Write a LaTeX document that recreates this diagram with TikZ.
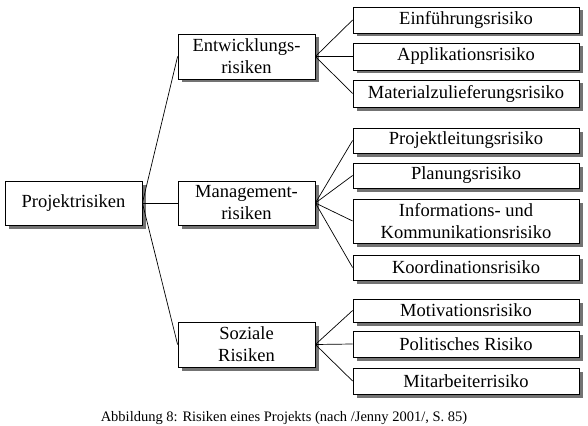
\documentclass[tikz,border=0pt]{standalone}
\usepackage{fontspec}
\setmainfont{Liberation Serif}
\usetikzlibrary{shadows}
\begin{document}
\begin{tikzpicture}[x=1pt,y=-1pt,
  box/.style={draw=black, line width=0.8pt, fill=white, inner sep=0pt, align=center,
    font=\fontsize{18.5}{22}\selectfont,
    drop shadow={shadow xshift=3.5pt, shadow yshift=-3.5pt, fill=black!55, opacity=1}},
  midbox/.style={box, minimum width=137pt},
  leafbox/.style={box, minimum width=226pt},
  conn/.style={draw=black, line width=0.7pt}]
\useasboundingbox (0,0) rectangle (588,425);
\node[midbox, minimum height=44pt] (P) at (73.5,203) {Projektrisiken};
\node[midbox, minimum height=45pt] (E) at (246.5,56.5) {Entwicklungs-\\risiken};
\node[midbox, minimum height=44pt] (M) at (246.5,203) {Management-\\risiken};
\node[midbox, minimum height=45pt] (S) at (246.5,344.5) {Soziale\\Risiken};
\node[leafbox, minimum height=26pt] (e1) at (466,20) {Einführungsrisiko};
\node[leafbox, minimum height=27pt] (e2) at (466,56.5) {Applikationsrisiko};
\node[leafbox, minimum height=27pt] (e3) at (466,93.5) {Materialzulieferungsrisiko};
\node[leafbox, minimum height=25pt] (m1) at (466,140.5) {Projektleitungsrisiko};
\node[leafbox, minimum height=25pt] (m2) at (466,175.5) {Planungsrisiko};
\node[leafbox, minimum height=44pt] (m3) at (466,221) {Informations- und\\Kommunikationsrisiko};
\node[leafbox, minimum height=25pt] (m4) at (466,267.5) {Koordinationsrisiko};
\node[leafbox, minimum height=23pt] (s1) at (466,310.5) {Motivationsrisiko};
\node[leafbox, minimum height=26pt] (s2) at (466,344) {Politisches Risiko};
\node[leafbox, minimum height=26pt] (s3) at (466,381) {Mitarbeiterrisiko};
\node[font=\fontsize{14.5}{17}\selectfont, inner sep=0pt] (cap) at (284,418) {Abbildung 8: Risiken eines Projekts (nach /Jenny 2001/, S. 85)};
\draw[conn] (P.east) -- (E.west);
\draw[conn] (P.east) -- (M.west);
\draw[conn] (P.east) -- (S.west);
\foreach \a/\b in {E/e1,E/e2,E/e3,M/m1,M/m2,M/m3,M/m4,S/s1,S/s2,S/s3}
  \draw[conn] (\a.east) -- (\b.west);
\end{tikzpicture}
\end{document}
